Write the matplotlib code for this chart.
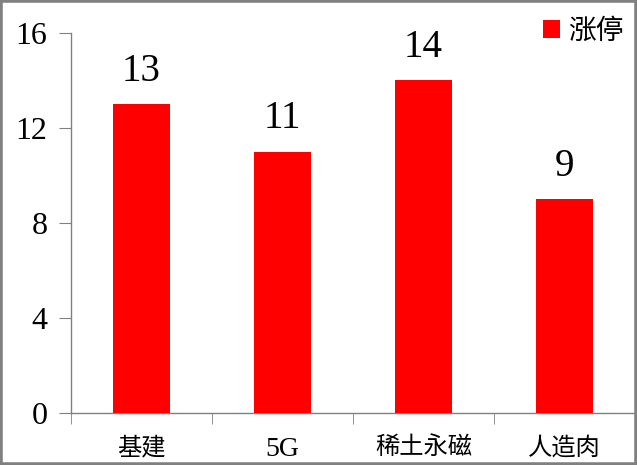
import matplotlib
matplotlib.use("Agg")
import matplotlib.pyplot as plt
from matplotlib.patches import Rectangle
from matplotlib.ticker import FixedLocator

categories = ["基建", "5G", "稀土永磁", "人造肉"]
values = [13, 11, 14, 9]
series_name = "涨停"
yticks = [0, 4, 8, 12, 16]

plt.rcParams['font.family'] = ['Liberation Serif', 'Noto Sans CJK SC', 'DejaVu Sans']

fig = plt.figure(figsize=(6.37, 4.65), dpi=100)
ax = fig.add_axes([71/637, 52/465, 564/637, 380/465])

x = list(range(len(categories)))
ax.bar(x, values, width=0.4, color="#ff0000", label=series_name, zorder=3)
for xi, v in zip(x, values):
    ax.text(xi, v + 0.6, str(v), ha="center", va="bottom", fontsize=28, color="black")

ax.set_xlim(-0.5, len(categories) - 0.5)
ax.set_ylim(0, 16)
ax.set_yticks(yticks)
ax.set_yticklabels([str(t) for t in yticks], fontsize=23)
ax.set_xticks(x)
ax.set_xticklabels(categories, fontsize=17.5)
for lbl in ax.get_xticklabels():
    if lbl.get_text().isascii():
        lbl.set_fontsize(20)
ax.xaxis.set_minor_locator(FixedLocator([i - 0.5 for i in range(len(categories) + 1)]))
ax.tick_params(axis="x", which="major", length=0, pad=17)
ax.tick_params(axis="x", which="minor", length=8, color="#808080", direction="out")
ax.tick_params(axis="y", length=9, color="#808080", direction="out", pad=8)

for s in ["top", "right"]:
    ax.spines[s].set_visible(False)
for s in ["left", "bottom"]:
    ax.spines[s].set_color("#808080")
    ax.spines[s].set_linewidth(1)

leg = ax.legend(loc="upper right", bbox_to_anchor=(1.0, 1.065), frameon=False,
                fontsize=20, handlelength=0.6, handleheight=0.6, handletextpad=0.3,
                borderaxespad=0)

fig.patches.append(Rectangle((0, 0), 1, 1, transform=fig.transFigure, fill=False,
                             edgecolor="#808080", linewidth=4, zorder=10))

fig.savefig("out.png", dpi=100)
